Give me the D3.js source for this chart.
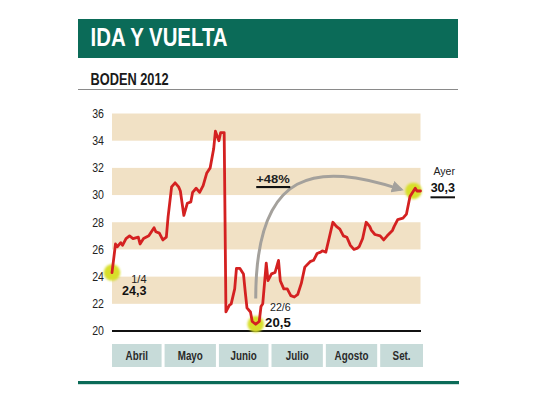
<!DOCTYPE html>
<html>
<head>
<meta charset="utf-8">
<script src="https://cdn.jsdelivr.net/npm/d3@7"></script>
<style>
  html, body { margin: 0; padding: 0; background: #ffffff; }
  svg { display: block; }
  text { font-family: 'Liberation Sans', Arial, sans-serif; }
</style>
</head>
<body>
<svg id="chart" width="540" height="405"></svg>
<script>
// ---------- DATA ----------
const titulo = "IDA Y VUELTA";
const subtitulo = "BODEN 2012";
const fechas = [
  "1/4","3/4","4/4","6/4","7/4","9/4","11/4","13/4","16/4","17/4","19/4","22/4","25/4","26/4","28/4","30/4",
  "2/5","3/5","5/5","7/5","9/5","10/5","12/5","14/5","16/5","17/5","19/5","21/5","23/5","25/5","27/5","29/5","30/5",
  "1/6","2/6","4/6","5/6","7/6","8/6","10/6","11/6","13/6","15/6","16/6","17/6","19/6","20/6","22/6","24/6","25/6","26/6","28/6","29/6",
  "1/7","3/7","5/7","6/7","8/7","10/7","12/7","14/7","16/7","18/7","20/7","23/7","25/7","27/7","29/7","30/7",
  "1/8","3/8","5/8","7/8","9/8","11/8","13/8","15/8","17/8","19/8","20/8","22/8","24/8","26/8","27/8","29/8",
  "1/9","3/9","5/9","8/9","9/9","11/9","14/9","16/9","18/9","20/9","21/9","22/9","24/9"
];
const valores = [
  24.3,26.4,26.2,26.5,26.3,26.8,27.0,26.8,26.9,26.4,26.8,27.0,27.6,27.3,27.2,26.7,
  26.9,28.4,30.6,30.9,30.6,30.3,28.5,29.4,29.5,30.2,30.5,30.2,30.7,31.6,32.0,33.4,34.7,
  34.0,34.6,34.6,21.4,21.9,22.0,23.1,24.6,24.6,24.2,22.9,21.7,21.4,20.7,20.5,20.7,21.8,22.0,25.0,23.7,
  24.2,24.3,25.2,23.7,23.1,23.1,22.6,22.5,22.7,23.5,24.7,25.1,25.2,25.7,25.8,25.9,
  25.8,26.9,28.0,27.7,27.5,27.0,26.9,26.3,26.0,26.1,26.2,26.8,28.0,27.7,27.4,27.1,
  27.0,26.7,27.0,27.4,27.7,28.2,28.3,28.6,29.9,30.3,30.5,30.3,30.3
];
const yTicks = [20, 22, 24, 26, 28, 30, 32, 34, 36];
const bandas = [[22, 24], [26, 28], [30, 32], [34, 36]];
const meses = ["Abril", "Mayo", "Junio", "Julio", "Agosto", "Set."];
const inicioMeses = ["1/4", "1/5", "1/6", "1/7", "1/8", "1/9"];
const finPeriodo = "26/9";
// annotations: [date, value, upper label, lower label]
const hitos = [
  ["1/4", 24.3, "1/4", "24,3"],
  ["22/6", 20.5, "22/6", "20,5"],
  ["20/9", 30.3, "Ayer", "30,3"]
];
const variacion = "+48%";

// ---------- SETUP ----------
const parse = s => d3.timeParse("%d/%m/%Y")(s + "/2012");
const datos = fechas.map((f, i) => ({ fecha: parse(f), valor: valores[i] }));

const svg = d3.select("#chart");
const GREEN = "#0b6b58";

// text helper with horizontal scale (condensed / expanded look)
function txt(parent, xx, yy, str, size, weight, fill, anchor, sx) {
  return parent.append("text")
    .attr("transform", `translate(${xx},${yy}) scale(${sx == null ? 0.8 : sx},1)`)
    .attr("font-size", size).attr("font-weight", weight || "normal")
    .attr("fill", fill || "#222").attr("text-anchor", anchor || "start").text(str);
}

const x = d3.scaleTime().domain([parse("1/4"), parse(finPeriodo)]).range([112, 424]);
const y = d3.scaleLinear().domain([20, 36]).range([331, 113.5]);
const xEnd = x(datos[datos.length - 1].fecha);

// ---------- HEADER ----------
svg.append("rect").attr("x", 78).attr("y", 19).attr("width", 380).attr("height", 39).attr("fill", GREEN);
txt(svg, 90.5, 45.5, titulo, 25.5, "bold", "#fff");
txt(svg, 90.5, 84.5, subtitulo, 16, "bold", "#1a1a1a");
svg.append("line").attr("x1", 78).attr("x2", 458).attr("y1", 89.5).attr("y2", 89.5)
  .attr("stroke", "#8a8a8a").attr("stroke-width", 1);

// ---------- BANDS ----------
svg.append("g").selectAll("rect").data(bandas).join("rect")
  .attr("x", x.range()[0]).attr("width", xEnd - x.range()[0])
  .attr("y", d => y(d[1])).attr("height", d => y(d[0]) - y(d[1]))
  .attr("fill", "#f1e1c5");

// ---------- Y AXIS ----------
const yAxis = d3.axisLeft(y).tickValues(yTicks).tickSize(0).tickPadding(0).tickFormat(d3.format("d"));
const gy = svg.append("g").attr("transform", "translate(104,0)").call(yAxis);
gy.select(".domain").remove();
gy.selectAll("text").attr("font-size", 12).attr("fill", "#222")
  .attr("transform", "scale(0.88,1)")
  .style("font-family", "'Liberation Sans', Arial, sans-serif");

// baseline
svg.append("line").attr("x1", x.range()[0]).attr("x2", xEnd + 0.5)
  .attr("y1", y(20)).attr("y2", y(20)).attr("stroke", "#111").attr("stroke-width", 2);

// ---------- MONTH BOXES ----------
const mesData = meses.map((m, i) => ({
  nombre: m,
  x0: x(parse(inicioMeses[i])),
  x1: i < meses.length - 1 ? x(parse(inicioMeses[i + 1])) - 3 : x.range()[1] - 1
}));
const gm = svg.append("g");
gm.selectAll("rect").data(mesData).join("rect")
  .attr("x", d => d.x0).attr("width", d => d.x1 - d.x0)
  .attr("y", 344).attr("height", 23).attr("fill", "#c7dbd9");
mesData.forEach(d => txt(gm, (d.x0 + d.x1) / 2, 359.5, d.nombre, 12, "bold", "#2a2a2a", "middle", 0.82));

// bottom rule
svg.append("rect").attr("x", 78).attr("y", 381).attr("width", 381).attr("height", 3.2).attr("fill", GREEN);

// ---------- ARROW ----------
const defs = svg.append("defs");
defs.append("marker").attr("id", "flecha").attr("viewBox", "0 0 10 10")
  .attr("refX", 8).attr("refY", 5).attr("markerWidth", 4).attr("markerHeight", 4)
  .attr("orient", "auto").attr("markerUnits", "strokeWidth")
  .append("path").attr("d", "M0,0 L10,5 L0,10 z").attr("fill", "#a4a19c");
defs.append("filter").attr("id", "blur").append("feGaussianBlur").attr("stdDeviation", 0.8);

const pA = [x(parse("22/6")), y(22.4)];
const pB = [x(parse("20/9")) - 12, y(30.4)];
svg.append("path")
  .attr("d", `M${pA[0]},${pA[1]} C${pA[0]},${pA[1] - 132} ${pA[0] + 62},${pA[1] - 136} ${pB[0]},${pB[1]}`)
  .attr("fill", "none").attr("stroke", "#a4a19c").attr("stroke-width", 3)
  .attr("marker-end", "url(#flecha)");

// ---------- HIGHLIGHT CIRCLES ----------
svg.append("g").selectAll("circle").data(hitos).join("circle")
  .attr("cx", d => x(parse(d[0]))).attr("cy", d => y(d[1])).attr("r", 8.3)
  .attr("fill", "#d8df2a").attr("filter", "url(#blur)");

// ---------- LINE ----------
const linea = d3.line().x(d => x(d.fecha)).y(d => y(d.valor));
svg.append("path").datum(datos).attr("d", linea)
  .attr("fill", "none").attr("stroke", "#d42121").attr("stroke-width", 2.8)
  .attr("stroke-linejoin", "round").attr("stroke-linecap", "round");

// ---------- LABELS ----------
// offsets relative to the highlighted point (label placement only)
const etiquetas = [
  { h: hitos[0], dx: 34.5, top: 283.3, bot: 295, st: [11, 1.0], sb: [12, 1.05] },
  { h: hitos[1], dx: 35, top: 310.7, bot: 326.7, st: [11.5, 0.93], sb: [12, 1.1] },
  { h: hitos[2], dx: 41.5, top: 174.5, bot: 192, st: [11, 0.96], sb: [12.5, 1.0] }
];
etiquetas.forEach(e => {
  const cx = x(parse(e.h[0]));
  txt(svg, cx + e.dx, e.top, e.h[2], e.st[0], "normal", "#222", "end", e.st[1]);
  txt(svg, cx + e.dx, e.bot, e.h[3], e.sb[0], "bold", "#111", "end", e.sb[1]);
});
// underline for Ayer value
const ayerX = x(parse(hitos[2][0])) + 41.5;
svg.append("rect").attr("x", ayerX - 24.5).attr("y", 196.3).attr("width", 24.5).attr("height", 2).attr("fill", "#111");

// +48%
const varX = x(parse("22/6")) + 0.5;
txt(svg, varX, 183.3, variacion, 11.8, "bold", "#222", "start", 1.1);
svg.append("rect").attr("x", varX).attr("y", 186).attr("width", 34).attr("height", 2.1).attr("fill", "#111");
</script>
</body>
</html>
